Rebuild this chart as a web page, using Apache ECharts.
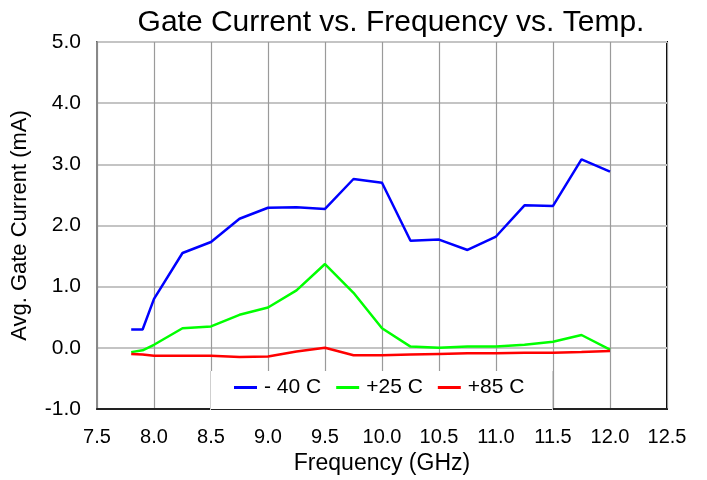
<!DOCTYPE html>
<html>
<head>
<meta charset="utf-8">
<script src="https://cdn.jsdelivr.net/npm/echarts@6/dist/echarts.min.js"></script>
<style>html,body{margin:0;padding:0;background:#fff}#c{width:707px;height:480px}</style>
</head>
<body>
<div id="c"></div>
<script>
var freq = [7.8, 7.9, 8.0, 8.25, 8.5, 8.75, 9.0, 9.25, 9.5, 9.75, 10.0, 10.25, 10.5, 10.75, 11.0, 11.25, 11.5, 11.75, 12.0];
var minus40 = [0.30, 0.30, 0.80, 1.55, 1.73, 2.11, 2.29, 2.30, 2.27, 2.76, 2.70, 1.75, 1.77, 1.60, 1.82, 2.33, 2.32, 3.08, 2.88];
var plus25 = [-0.07, -0.04, 0.05, 0.32, 0.35, 0.54, 0.66, 0.94, 1.37, 0.90, 0.32, 0.02, 0.00, 0.02, 0.02, 0.05, 0.10, 0.21, -0.03];
var plus85 = [-0.10, -0.11, -0.13, -0.13, -0.13, -0.15, -0.14, -0.06, 0.00, -0.12, -0.12, -0.11, -0.10, -0.09, -0.09, -0.08, -0.08, -0.07, -0.05];
var seriesNames = ['- 40 C', '+25 C', '+85 C'];
var seriesColors = ['#0000ff', '#00ff00', '#ff0000'];
var xTicks = [7.5, 12.5, 0.5];
var yTicks = [-1, 5, 1];

function pairs(ys) { return freq.map(function (f, i) { return [f, ys[i]]; }); }
var allData = [minus40, plus25, plus85];
var FONT = '"Liberation Sans", Arial, Helvetica, sans-serif';

var chart = echarts.init(document.getElementById('c'), null, {renderer: 'canvas'});
chart.setOption({
  animation: false,
  backgroundColor: '#fff',
  title: {
    text: 'Gate Current vs. Frequency vs. Temp.',
    left: 386, top: 3, textAlign: 'center',
    textStyle: {fontFamily: FONT, fontSize: 30, fontWeight: 'normal', color: '#000'}
  },
  grid: {left: 97, right: 40, top: 42, bottom: 69, show: true, borderColor: '#000', borderWidth: 2, backgroundColor: 'transparent'},
  legend: {
    data: seriesNames.map(function (n) { return {name: n, icon: 'rect'}; }),
    left: 234, top: 377, padding: 0, itemWidth: 23, itemHeight: 3, itemGap: 15,
    textStyle: {fontFamily: FONT, fontSize: 21, color: '#000', padding: [0, 0, 0, 2]},
    z: 10
  },
  graphic: [{
    type: 'rect', z: 5,
    shape: {x: 210, y: 371, width: 343, height: 38},
    style: {fill: '#fff', stroke: null}
  }, {
    type: 'polyline', z: 5,
    shape: {points: [[210.5, 371], [210.5, 410]]},
    style: {stroke: '#cfcfcf', lineWidth: 1, fill: null}
  }, {
    type: 'polyline', z: 5,
    shape: {points: [[552.5, 371], [552.5, 410]]},
    style: {stroke: '#cfcfcf', lineWidth: 1, fill: null}
  }],
  xAxis: {
    type: 'value', min: xTicks[0], max: xTicks[1], interval: xTicks[2],
    name: 'Frequency (GHz)', nameLocation: 'middle', nameGap: 43,
    nameTextStyle: {fontFamily: FONT, fontSize: 23, color: '#000'},
    axisLine: {show: true, onZero: false, lineStyle: {color: '#222', width: 2}},
    axisTick: {show: false},
    axisLabel: {fontFamily: FONT, fontSize: 20, color: '#000', margin: 18, formatter: function (v) { return v.toFixed(1); }},
    splitLine: {show: true, lineStyle: {color: '#9a9a9a', width: 1.2}}
  },
  yAxis: {
    type: 'value', min: yTicks[0], max: yTicks[1], interval: yTicks[2],
    name: 'Avg. Gate Current (mA)', nameLocation: 'middle', nameGap: 66, nameRotate: 90,
    nameTextStyle: {fontFamily: FONT, fontSize: 22, color: '#000'},
    axisLine: {show: true, onZero: false, lineStyle: {color: '#888', width: 2}},
    axisTick: {show: false},
    axisLabel: {fontFamily: FONT, fontSize: 21, color: '#000', margin: 16, formatter: function (v) { return v.toFixed(1); }},
    splitLine: {show: true, lineStyle: {color: '#c4c4c4', width: 2}}
  },
  series: seriesNames.map(function (n, i) {
    return {
      name: n, type: 'line', data: pairs(allData[i]),
      showSymbol: false, symbol: 'none', z: 6,
      lineStyle: {color: seriesColors[i], width: 2.5},
      itemStyle: {color: seriesColors[i]}
    };
  })
});
</script>
</body>
</html>
